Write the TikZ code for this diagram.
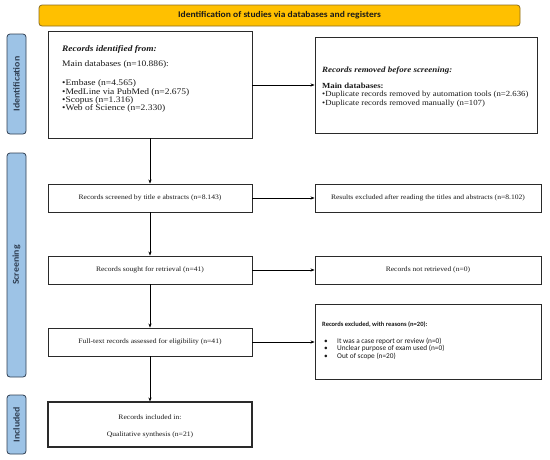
\documentclass[tikz,border=0pt]{standalone}
\usepackage{fontspec}
\setmainfont{Liberation Serif}[FakeStretch=1.12]
\newfontfamily\carlito{Carlito}
\newfontfamily\carlitow{Carlito}[FakeStretch=1.1]
\usetikzlibrary{arrows.meta,positioning,calc}
\definecolor{bannerfill}{HTML}{FFC000}
\definecolor{bannerdraw}{HTML}{8C6D1F}
\definecolor{sidefill}{HTML}{9DC3E6}
\definecolor{sidedraw}{HTML}{2F3E52}
\definecolor{boxdraw}{HTML}{2A2A2A}
\definecolor{txt}{HTML}{1A1A1A}
\begin{document}
\begin{tikzpicture}[x=1pt,y=-1pt,
  banner/.style={draw=bannerdraw,fill=bannerfill,rounded corners=3pt,line width=0.8pt,
    minimum width=481pt,minimum height=21pt,inner sep=0pt,
    font=\carlitow\bfseries\fontsize{8.7}{10}\selectfont,text=txt},
  side/.style={draw=sidedraw,fill=sidefill,rounded corners=3pt,line width=0.8pt,
    rotate=90,minimum height=19pt,inner sep=0pt,
    font=\carlitow\bfseries\fontsize{9}{10}\selectfont,text=sidedraw},
  fbox/.style={draw=boxdraw,line width=0.9pt,fill=white,inner sep=0pt},
  stext/.style={inner sep=0pt,font=\fontsize{6.8}{8}\selectfont,text=txt},
  btext/.style={inner sep=0pt,anchor=base west,font=\fontsize{8.5}{9}\selectfont,text=txt},
  rtext/.style={inner sep=0pt,anchor=base west,font=\carlito\fontsize{7.3}{8}\selectfont,text=txt},
  flow/.style={line width=0.9pt,draw=black,-{Stealth[length=4pt,width=3.2pt]}},
  ]
\useasboundingbox (0,0) rectangle (550,459);
% banner
\node[banner] (ban) at (279.5,15.5) {Identification of studies via databases and registers};
% side labels
\node[side,minimum width=100pt] (sid) at (16.5,84) {Identification};
\node[side,minimum width=224pt] (sscr) at (16.5,265) {Screening};
\node[side,minimum width=59pt] (sinc) at (16.5,424.5) {Included};
% boxes
\node[fbox,minimum width=204pt,minimum height=107pt] (b1) at (150,84.5) {};
\node[fbox,minimum width=222pt,minimum height=96pt] (rem) at (426,85) {};
\node[fbox,minimum width=204pt,minimum height=28pt,stext] (scr) at (150,198) {Records screened by title e abstracts (n=8.143)};
\node[fbox,minimum width=226pt,minimum height=28pt,stext] (exc) at (428,198) {Results excluded after reading the titles and abstracts (n=8.102)};
\node[fbox,minimum width=204pt,minimum height=28pt,stext] (sou) at (150,270) {Records sought for retrieval (n=41)};
\node[fbox,minimum width=226pt,minimum height=28pt,stext] (nret) at (428,270) {Records not retrieved (n=0)};
\node[fbox,minimum width=204pt,minimum height=28pt,stext] (ful) at (150,342) {Full-text records assessed for eligibility (n=41)};
\node[fbox,minimum width=226pt,minimum height=75pt] (rea) at (428,341.5) {};
\node[fbox,minimum width=204pt,minimum height=45pt,line width=1.1pt] (inc) at (150,424.5) {};
% texts: identified
\node[btext,font=\bfseries\itshape\fontsize{8.4}{9}\selectfont] (t1a) at (62,51) {Records identified from:};
\node[btext] (t1b) at (62,66.5) {Main databases (n=10.886):};
\node[btext] (t1c) at (62,85.5) {•Embase (n=4.565)};
\node[btext] (t1d) at (62,94) {•MedLine via PubMed (n=2.675)};
\node[btext] (t1e) at (62,102.3) {•Scopus (n=1.316)};
\node[btext] (t1f) at (62,110.6) {•Web of Science (n=2.330)};
% texts: removed
\node[btext,font=\bfseries\itshape\fontsize{8}{9}\selectfont] (t2a) at (322,72) {Records removed before screening:};
\node[btext,font=\bfseries\fontsize{7.8}{9}\selectfont] (t2b) at (322,88) {Main databases:};
\node[btext,font=\fontsize{7.8}{9}\selectfont] (t2c) at (322,96.5) {•Duplicate records removed by automation tools (n=2.636)};
\node[btext,font=\fontsize{7.8}{9}\selectfont] (t2d) at (322,105) {•Duplicate records removed manually (n=107)};
% texts: reasons
\node[btext,font=\carlito\bfseries\fontsize{6.5}{8}\selectfont] (t3a) at (322,326.5) {Records excluded, with reasons (n=20):};
\node[rtext] (t3b) at (324,343) {•};
\node[rtext] (t3c) at (337,343) {It was a case report or review (n=0)};
\node[rtext] (t3d) at (324,350.5) {•};
\node[rtext] (t3e) at (337,350.5) {Unclear purpose of exam used (n=0)};
\node[rtext] (t3f) at (324,358) {•};
\node[rtext] (t3g) at (337,358) {Out of scope (n=20)};
% texts: included
\node[stext,anchor=base] (t4a) at (150,419) {Records included in:};
\node[stext,anchor=base] (t4b) at (150,436) {Qualitative synthesis (n=21)};
% connectors
\draw[flow] (b1.south) -- (scr.north);
\draw[flow] (scr.south) -- (sou.north);
\draw[flow] (sou.south) -- (ful.north);
\draw[flow] (ful.south) -- (inc.north);
\draw[flow] (b1.east |- rem.west) -- (rem.west);
\draw[flow] (scr.east) -- (exc.west);
\draw[flow] (sou.east) -- (nret.west);
\draw[flow] (ful.east) -- (ful.east -| rea.west);
\end{tikzpicture}
\end{document}
